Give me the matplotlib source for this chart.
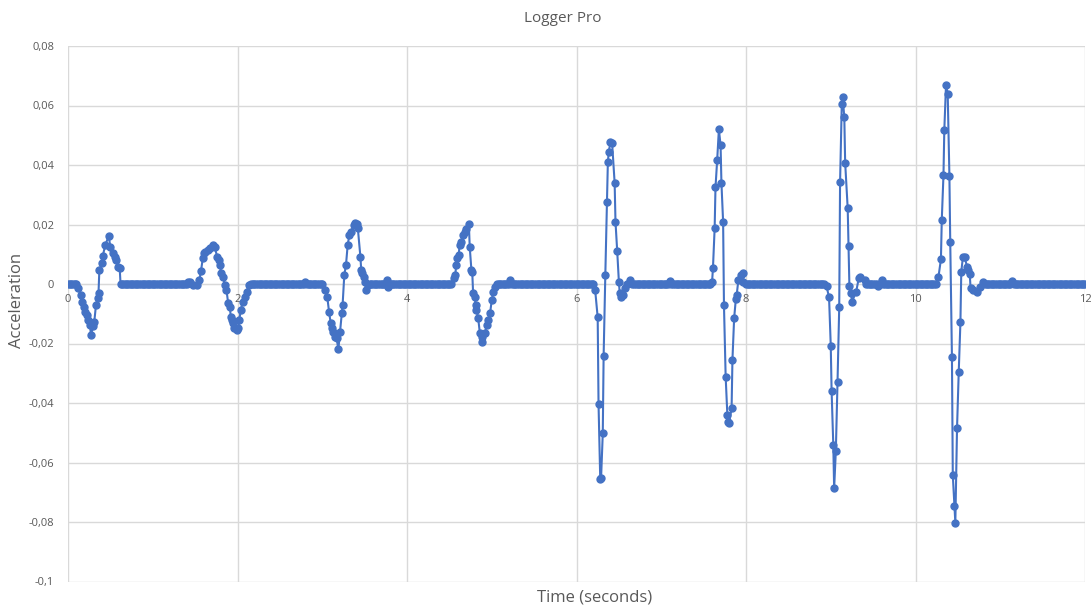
import numpy as np
import matplotlib.pyplot as plt
from matplotlib.ticker import FuncFormatter

# bursts (time in s, acceleration)
b1_t = [0.10, 0.12, 0.15, 0.17, 0.19, 0.20, 0.22, 0.24, 0.26, 0.27, 0.30, 0.31, 0.33, 0.35,
        0.36, 0.37, 0.40, 0.41, 0.44, 0.48, 0.50, 0.53, 0.55, 0.57, 0.59, 0.61, 0.62]
b1_a = [0, -0.0015, -0.0037, -0.006, -0.0077, -0.0093, -0.0104, -0.0121, -0.0138, -0.0171,
        -0.0141, -0.0127, -0.0071, -0.0047, -0.003, 0.0047, 0.007, 0.0094, 0.0131, 0.0161,
        0.0125, 0.0104, 0.009, 0.008, 0.0058, 0.0054, 0]

b2_t = [1.42, 1.44, 1.48, 1.52, 1.55, 1.57, 1.59, 1.60, 1.62, 1.65, 1.68, 1.71, 1.73, 1.76,
        1.78, 1.79, 1.81, 1.83, 1.85, 1.87, 1.89, 1.91, 1.92, 1.93, 1.95, 1.96, 1.99, 2.01,
        2.02, 2.04, 2.06, 2.09, 2.11, 2.13]
b2_a = [0.0008, 0.0008, -0.0003, -0.0003, 0.0013, 0.0045, 0.0086, 0.0103, 0.0109, 0.0114,
        0.012, 0.0131, 0.0125, 0.0092, 0.008, 0.0064, 0.0036, 0.0025, -0.0003, -0.002,
        -0.0065, -0.0076, -0.011, -0.0121, -0.0132, -0.0149, -0.0155, -0.0149, -0.0121,
        -0.0087, -0.006, -0.0043, -0.0026, -0.0003]

b3_t = [3.03, 3.06, 3.08, 3.10, 3.12, 3.13, 3.15, 3.17, 3.19, 3.21, 3.23, 3.24, 3.26, 3.28,
        3.30, 3.32, 3.34, 3.37, 3.39, 3.41, 3.42, 3.45, 3.46, 3.47, 3.49, 3.51, 3.52, 3.54]
b3_a = [-0.002, -0.0045, -0.0093, -0.0132, -0.0149, -0.016, -0.0177, -0.0183, -0.022, -0.016,
        -0.0099, -0.0071, 0.003, 0.0064, 0.0131, 0.0165, 0.0176, 0.0198, 0.0204, 0.0203,
        0.0187, 0.0092, 0.0047, 0.0038, 0.0025, 0.0008, -0.002, -0.0003]

b4_t = [4.55, 4.57, 4.58, 4.59, 4.61, 4.62, 4.64, 4.66, 4.68, 4.70, 4.73, 4.74, 4.76, 4.77,
        4.78, 4.80, 4.81, 4.82, 4.84, 4.86, 4.88, 4.89, 4.92, 4.94, 4.96, 4.98, 5.00, 5.02, 5.04]
b4_a = [0.0019, 0.003, 0.0064, 0.0086, 0.0097, 0.013, 0.0142, 0.0165, 0.0176, 0.0185, 0.0202,
        0.0125, 0.0047, 0.004, -0.0031, -0.0043, -0.0071, -0.0087, -0.0115, -0.0166, -0.0177,
        -0.0194, -0.0166, -0.0138, -0.0121, -0.0099, -0.0054, -0.0026, -0.0011]

b5_t = [6.20, 6.22, 6.25, 6.26, 6.28, 6.29, 6.31, 6.32, 6.34, 6.36, 6.37, 6.38, 6.40, 6.42,
        6.45, 6.46, 6.48, 6.50, 6.51, 6.53, 6.55, 6.57, 6.59]
b5_a = [0, -0.002, -0.0112, -0.0403, -0.0655, -0.0653, -0.0502, -0.0242, 0.003, 0.0277, 0.0409,
        0.0443, 0.0476, 0.0474, 0.034, 0.0209, 0.0112, 0.0008, -0.0031, -0.0043, -0.0036,
        -0.0015, 0]

b6_t = [7.60, 7.61, 7.63, 7.64, 7.66, 7.68, 7.70, 7.71, 7.73, 7.74, 7.76, 7.78, 7.79, 7.80,
        7.83, 7.84, 7.86, 7.88, 7.89, 7.91, 7.94, 7.96, 7.97]
b6_a = [0.0008, 0.0053, 0.0187, 0.0325, 0.0417, 0.052, 0.0467, 0.034, 0.0209, -0.0071, -0.0312,
        -0.044, -0.0465, -0.0468, -0.0418, -0.0255, -0.0115, -0.0051, -0.0037, 0.0013, 0.003,
        0.0036, 0.0008]

b7_t = [8.95, 8.98, 9.00, 9.01, 9.03, 9.04, 9.06, 9.08, 9.10, 9.11, 9.13, 9.14, 9.16, 9.17,
        9.20, 9.21, 9.22, 9.24, 9.25, 9.30, 9.33, 9.35, 9.40]
b7_a = [-0.0007, -0.0045, -0.0207, -0.0359, -0.0541, -0.0687, -0.0561, -0.0328, -0.0078, 0.0342,
        0.0605, 0.063, 0.056, 0.0408, 0.0254, 0.0129, -0.0006, -0.003, -0.006, -0.0026, 0.0019,
        0.0025, 0.0013]

b8_t = [10.27, 10.30, 10.31, 10.33, 10.34, 10.36, 10.38, 10.40, 10.41, 10.43, 10.44, 10.46,
        10.47, 10.49, 10.51, 10.53, 10.54, 10.56, 10.58, 10.61, 10.62, 10.64, 10.65, 10.68,
        10.72, 10.76, 10.80]
b8_a = [0.0022, 0.0083, 0.0215, 0.0366, 0.0518, 0.0669, 0.0639, 0.0364, 0.014, -0.0246, -0.0642,
        -0.0746, -0.0802, -0.0485, -0.0297, -0.0129, 0.004, 0.0092, 0.009, 0.0056, 0.0047,
        0.0034, -0.0015, -0.002, -0.0026, -0.0009, 0.0008]

# small blips on the flat stretches
blip_t = [2.80, 3.76, 3.78, 5.22, 6.63, 7.10, 9.56, 9.60, 11.14]
blip_a = [0.0008, 0.0015, -0.001, 0.0013, 0.0013, 0.001, -0.0007, 0.0013, 0.001]

bursts = [(b1_t, b1_a), (b2_t, b2_a), (b3_t, b3_a), (b4_t, b4_a),
          (b5_t, b5_a), (b6_t, b6_a), (b7_t, b7_a), (b8_t, b8_a)]
bursts += [([bt], [ba]) for bt, ba in zip(blip_t, blip_a)]

# flat baseline sampled at 50 Hz between bursts
grid = np.round(np.arange(0, 12.001, 0.02), 2)
keep = np.ones(len(grid), bool)
for bt, ba in bursts:
    keep &= ~((grid >= min(bt) - 0.012) & (grid <= max(bt) + 0.012))

t = np.concatenate([grid[keep]] + [np.array(bt) for bt, _ in bursts])
acc = np.concatenate([np.zeros(keep.sum())] + [np.array(ba, float) for _, ba in bursts])
order = np.argsort(t, kind='stable')
t = t[order]
acc = acc[order]

blue = '#4472C4'
grey = '#595959'
plt.rcParams['font.family'] = ['Open Sans', 'DejaVu Sans']

fig = plt.figure(figsize=(10.91, 6.11), dpi=100)
ax = fig.add_axes([68 / 1091, 1 - 581.5 / 611, 1017 / 1091, 535.5 / 611])

ax.plot(t, acc, color=blue, lw=1.5, marker='o', ms=5, mec=blue, mfc=blue, zorder=3)

ax.set_xlim(0, 12)
ax.set_ylim(-0.1, 0.08)
ax.set_xticks(np.arange(0, 13, 2))
ax.set_yticks(np.round(np.arange(-0.1, 0.081, 0.02), 2))
ax.yaxis.set_major_formatter(FuncFormatter(lambda v, p: f"{v:g}".replace('.', ',')))
ax.xaxis.set_major_formatter(FuncFormatter(lambda v, p: f"{v:g}"))

ax.grid(True, color='#D9D9D9', lw=1)
ax.set_axisbelow(True)
for s in ['top', 'right', 'left']:
    ax.spines[s].set_visible(False)
ax.spines['bottom'].set_position(('data', 0))
ax.spines['bottom'].set_color('#D9D9D9')
ax.tick_params(length=0, colors=grey, labelsize=8)
ax.tick_params(axis='x', pad=7)
ax.tick_params(axis='y', pad=10)

fig.text(563 / 1091, 1 - 18 / 611, 'Logger Pro', ha='center', va='center',
         fontsize=11, color=grey)
fig.text(595 / 1091, 1 - 598 / 611, 'Time (seconds)', ha='center', va='center',
         fontsize=12, color=grey)
fig.text(17 / 1091, 1 - 300 / 611, 'Acceleration', ha='center', va='center',
         rotation=90, fontsize=12, color=grey)

fig.savefig('out.png', dpi=100)
